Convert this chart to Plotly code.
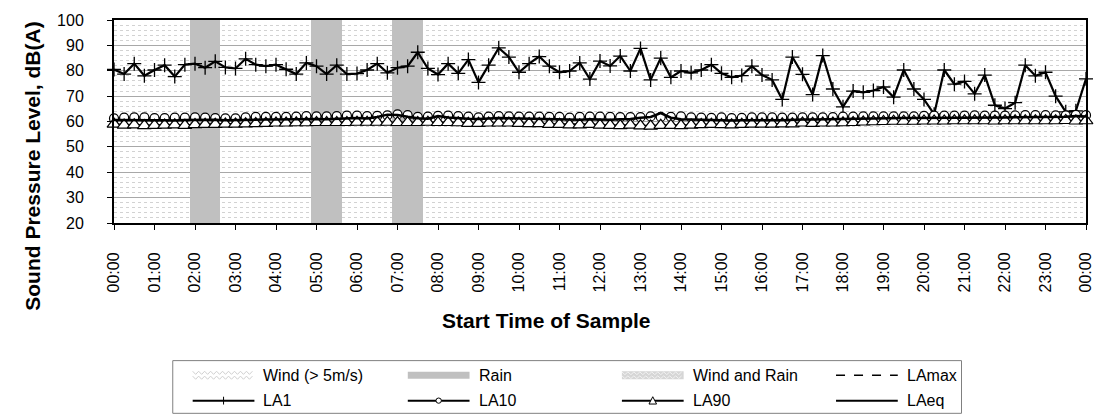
import plotly.graph_objects as go

# ---- data: 15-minute samples from 00:00 to 24:00 ----
hour_labels = ["00:00", "01:00", "02:00", "03:00", "04:00", "05:00", "06:00", "07:00",
               "08:00", "09:00", "10:00", "11:00", "12:00", "13:00", "14:00", "15:00",
               "16:00", "17:00", "18:00", "19:00", "20:00", "21:00", "22:00", "23:00", "00:00"]

la1 = [80.5, 78.7, 82.8, 78.0, 80.3, 82.2, 77.7, 82.4,
       82.8, 81.2, 83.7, 81.3, 80.9, 84.7, 82.4, 81.8,
       82.4, 80.6, 78.7, 83.1, 81.8, 78.7, 82.2, 78.7,
       78.9, 80.3, 82.8, 79.2, 81.2, 81.8, 87.3, 80.9,
       78.5, 82.8, 79.0, 84.4, 75.4, 82.2, 89.0, 85.4,
       79.4, 82.8, 85.6, 81.8, 79.4, 79.9, 83.1, 76.7,
       83.8, 81.9, 85.8, 79.9, 88.8, 76.4, 85.0, 77.4,
       79.9, 79.2, 80.3, 82.4, 79.0, 77.4, 78.1, 81.8,
       78.3, 76.4, 68.7, 85.4, 78.6, 70.6, 86.0, 72.8,
       65.8, 72.0, 71.5, 72.2, 73.6, 69.6, 80.3, 72.8,
       68.7, 62.9, 80.3, 74.7, 75.8, 70.9, 78.3, 66.4,
       65.1, 67.4, 82.2, 78.0, 79.4, 70.0, 63.8, 64.2,
       76.8]

la10 = [61.2, 61.5, 61.6, 61.6, 61.3, 61.3, 61.5, 61.5,
        61.6, 61.5, 61.3, 61.2, 61.2, 61.6, 61.8, 61.8,
        61.8, 61.8, 61.9, 62.1, 62.0, 62.0, 62.1, 62.3,
        62.3, 62.1, 62.2, 62.4, 62.8, 62.5, 61.8, 61.9,
        62.2, 62.3, 62.1, 61.9, 61.6, 61.9, 62.1, 62.0,
        61.9, 61.9, 61.9, 61.8, 61.8, 61.5, 61.8, 61.9,
        61.9, 61.8, 61.7, 61.7, 61.7, 62.0, 61.8, 61.8,
        62.0, 61.6, 61.5, 61.4, 61.6, 61.3, 61.4, 61.6,
        61.6, 61.6, 61.5, 61.5, 61.6, 61.6, 61.6, 61.7,
        61.9, 61.9, 62.0, 62.0, 62.0, 62.0, 62.0, 62.0,
        62.2, 62.3, 62.3, 62.3, 62.3, 62.4, 62.3, 62.3,
        62.3, 62.4, 62.5, 62.5, 62.5, 62.4, 62.4, 62.6,
        62.5]

la90 = [59.0, 58.6, 58.7, 58.4, 58.5, 58.6, 58.7, 58.5,
        58.8, 58.9, 58.9, 59.0, 59.0, 59.1, 59.2, 59.3,
        59.4, 59.4, 59.5, 59.5, 59.6, 59.6, 59.6, 59.6,
        59.7, 59.7, 59.7, 59.7, 59.6, 59.6, 59.6, 59.7,
        59.6, 59.6, 59.5, 59.3, 59.3, 59.4, 59.4, 59.4,
        59.3, 59.2, 59.2, 58.9, 58.9, 58.7, 58.7, 58.9,
        58.6, 58.5, 58.4, 58.6, 58.3, 58.2, 58.5, 58.5,
        58.4, 58.6, 58.8, 58.9, 58.8, 58.7, 58.9, 59.0,
        59.0, 59.0, 59.1, 59.1, 59.4, 59.3, 59.4, 59.4,
        59.5, 59.6, 59.8, 59.9, 60.0, 60.1, 60.1, 60.1,
        60.2, 60.2, 60.2, 60.3, 60.3, 60.3, 60.3, 60.2,
        60.3, 60.3, 60.3, 60.3, 60.3, 60.3, 60.4, 60.2,
        60.3]

laeq = [60.6, 60.5, 60.6, 60.4, 60.5, 60.5, 60.4, 60.6,
        60.7, 60.6, 60.7, 60.5, 60.6, 60.8, 60.7, 60.8,
        60.8, 60.9, 60.8, 61.0, 61.0, 60.9, 61.0, 61.2,
        61.4, 61.2, 61.8, 62.7, 62.6, 61.9, 61.3, 61.1,
        62.2, 61.6, 61.3, 61.1, 61.0, 61.3, 61.4, 61.3,
        61.2, 61.0, 61.0, 60.8, 60.7, 60.6, 60.7, 60.9,
        60.8, 60.7, 60.9, 61.0, 61.5, 61.8, 63.3, 61.5,
        60.9, 60.8, 60.5, 60.6, 60.5, 60.4, 60.5, 60.6,
        60.6, 60.5, 60.5, 60.7, 60.8, 60.8, 60.9, 61.0,
        61.1, 61.1, 61.2, 61.2, 61.3, 61.3, 61.4, 61.4,
        61.4, 61.5, 61.5, 61.6, 61.6, 61.6, 61.6, 61.6,
        61.6, 61.7, 61.7, 61.8, 61.8, 61.8, 61.9, 62.2,
        62.0]

# sample periods flagged as rain
rain_times = ["02:00", "02:15", "02:30", "05:00", "05:15", "05:30", "07:00", "07:15", "07:30"]


def to_hours(t):
    h, m = t.split(":")
    return int(h) + int(m) / 60.0


sample_hours = [i / 4.0 for i in range(len(la1))]
rain_hours = [to_hours(t) for t in rain_times]
Y_MIN, Y_MAX = 20, 100

FONT = "Liberation Sans, Arial, sans-serif"

# ---- figure geometry (pixels) ----
W, H = 1106, 420
L, R, T, B = 114, 16, 15, 197
PW, PH = W - L - R, H - T - B


def px(x):
    return (x - L) / PW


def py(y):
    return (H - B - y) / PH


fig = go.Figure()

# rain periods span the full height of the plot
fig.add_trace(go.Bar(
    x=rain_hours, y=[Y_MAX] * len(rain_hours), width=0.25,
    marker=dict(color="#C0C0C0", line=dict(width=0)),
    name="Rain", showlegend=False, hoverinfo="skip"))

fig.add_trace(go.Scatter(
    x=sample_hours, y=la1, mode="lines+markers", name="LA1",
    line=dict(color="black", width=2.2),
    marker=dict(symbol="cross-thin", size=10, color="black",
                line=dict(color="black", width=1.3)),
    cliponaxis=False, showlegend=False))

fig.add_trace(go.Scatter(
    x=sample_hours, y=la10, mode="lines+markers", name="LA10",
    line=dict(color="black", width=2),
    marker=dict(symbol="circle", size=9, color="white",
                line=dict(color="black", width=1.2)),
    cliponaxis=False, showlegend=False))

fig.add_trace(go.Scatter(
    x=sample_hours, y=la90, mode="lines+markers", name="LA90",
    line=dict(color="black", width=2),
    marker=dict(symbol="triangle-up", size=12, color="white",
                line=dict(color="black", width=1.2)),
    cliponaxis=False, showlegend=False))

fig.add_trace(go.Scatter(
    x=sample_hours, y=laeq, mode="lines", name="LAeq",
    line=dict(color="black", width=2.5),
    cliponaxis=False, showlegend=False))

# ---- legend drawn as shapes + text ----
shapes = []
annotations = []

box = dict(x0=173, x1=965, y0=364, y1=418)
shapes.append(dict(type="rect", xref="paper", yref="paper",
                   x0=px(box["x0"]), x1=px(box["x1"]), y0=py(box["y1"]), y1=py(box["y0"]),
                   line=dict(color="#808080", width=1), fillcolor="white", layer="above"))

col_x = [193, 409, 624, 839]
row_y = [379, 405]
SYM_W = 62


def zigzag_path(x0, x1, yc, amp, period):
    pts = []
    x = x0
    up = True
    while x <= x1 + 0.01:
        pts.append((x, yc - amp if up else yc + amp))
        up = not up
        x += period / 2.0
    return "M " + " L ".join(f"{px(a):.5f},{py(b):.5f}" for a, b in pts)


def legend_label(col, row, text):
    annotations.append(dict(
        x=px(col_x[col] + SYM_W + 7), y=py(row_y[row]), xref="paper", yref="paper",
        xanchor="left", yanchor="middle", text=text, showarrow=False,
        font=dict(family=FONT, size=16, color="black")))


# Wind (> 5m/s): light zigzag hatch
for dy in (-2.5, 2.5):
    shapes.append(dict(type="path", xref="paper", yref="paper",
                       path=zigzag_path(col_x[0], col_x[0] + SYM_W, row_y[0] + dy, 1.6, 6),
                       line=dict(color="#D0D0D0", width=1), layer="above"))
legend_label(0, 0, "Wind (&gt; 5m/s)")

# Rain: solid grey block
shapes.append(dict(type="rect", xref="paper", yref="paper",
                   x0=px(col_x[1]), x1=px(col_x[1] + SYM_W),
                   y0=py(row_y[0] + 3.5), y1=py(row_y[0] - 3.5),
                   fillcolor="#C0C0C0", line=dict(width=0), layer="above"))
legend_label(1, 0, "Rain")

# Wind and Rain: grey block with light zigzag
shapes.append(dict(type="rect", xref="paper", yref="paper",
                   x0=px(col_x[2]), x1=px(col_x[2] + SYM_W),
                   y0=py(row_y[0] + 4), y1=py(row_y[0] - 4),
                   fillcolor="#D6D6D6", line=dict(width=0), layer="above"))
for dy in (-2, 2):
    shapes.append(dict(type="path", xref="paper", yref="paper",
                       path=zigzag_path(col_x[2], col_x[2] + SYM_W, row_y[0] + dy, 1.4, 6),
                       line=dict(color="#F2F2F2", width=1), layer="above"))
legend_label(2, 0, "Wind and Rain")

# LAmax: dashed line
shapes.append(dict(type="line", xref="paper", yref="paper",
                   x0=px(col_x[3]), x1=px(col_x[3] + SYM_W), y0=py(row_y[0]), y1=py(row_y[0]),
                   line=dict(color="black", width=1.5, dash="dash"), layer="above"))
legend_label(3, 0, "LAmax")

# second row: solid lines with the series markers
for col in range(4):
    shapes.append(dict(type="line", xref="paper", yref="paper",
                       x0=px(col_x[col]), x1=px(col_x[col] + SYM_W), y0=py(row_y[1]), y1=py(row_y[1]),
                       line=dict(color="black", width=2), layer="above"))

cx = col_x[0] + SYM_W / 2
shapes.append(dict(type="line", xref="paper", yref="paper",
                   x0=px(cx), x1=px(cx), y0=py(row_y[1] - 4), y1=py(row_y[1] + 4),
                   line=dict(color="black", width=1), layer="above"))
legend_label(0, 1, "LA1")

cx = col_x[1] + SYM_W / 2
shapes.append(dict(type="circle", xref="paper", yref="paper",
                   x0=px(cx - 2.7), x1=px(cx + 2.7), y0=py(row_y[1] + 2.7), y1=py(row_y[1] - 2.7),
                   fillcolor="white", line=dict(color="black", width=1), layer="above"))
legend_label(1, 1, "LA10")

cx = col_x[2] + SYM_W / 2
tri = f"M {px(cx - 3.8):.5f},{py(row_y[1] + 3.5):.5f} L {px(cx + 3.8):.5f},{py(row_y[1] + 3.5):.5f} " \
      f"L {px(cx):.5f},{py(row_y[1] - 4):.5f} Z"
shapes.append(dict(type="path", xref="paper", yref="paper", path=tri,
                   fillcolor="white", line=dict(color="black", width=1), layer="above"))
legend_label(2, 1, "LA90")
legend_label(3, 1, "LAeq")

# ---- axis titles ----
annotations.append(dict(
    x=px(548), y=py(323), xref="paper", yref="paper", xanchor="center", yanchor="middle",
    text="<b>Start Time of Sample</b>", showarrow=False,
    font=dict(family=FONT, size=21, color="black")))
annotations.append(dict(
    x=px(32), y=py(165), xref="paper", yref="paper", xanchor="center", yanchor="middle",
    text="<b>Sound Pressure Level, dB(A)</b>", textangle=-90, showarrow=False,
    font=dict(family=FONT, size=21, color="black")))

fig.update_layout(
    width=W, height=H,
    margin=dict(l=L, r=R, t=T, b=B, pad=0),
    paper_bgcolor="white", plot_bgcolor="white",
    font=dict(family=FONT, size=16, color="black"),
    showlegend=False, bargap=0,
    shapes=shapes, annotations=annotations,
    xaxis=dict(
        range=[0, 24], tickmode="array",
        tickvals=list(range(len(hour_labels))), ticktext=hour_labels,
        tickangle=-90, ticks="outside", ticklen=5, tickwidth=1, tickcolor="black",
        ticklabelstandoff=16,
        showgrid=False, zeroline=False,
        showline=True, linecolor="black", linewidth=2, mirror=True,
        tickfont=dict(family=FONT, size=16, color="black")),
    yaxis=dict(
        range=[Y_MIN, Y_MAX], dtick=10, tick0=0,
        ticks="outside", ticklen=5, tickwidth=1, tickcolor="black",
        ticklabelstandoff=20,
        showgrid=True, gridcolor="#A8A8A8", gridwidth=1, zeroline=False,
        showline=True, linecolor="black", linewidth=2, mirror=True,
        minor=dict(dtick=2, showgrid=True, gridcolor="#D2D2D2", griddash="dot", gridwidth=1),
        tickfont=dict(family=FONT, size=16, color="black")),
)

fig.write_html("out.html")
